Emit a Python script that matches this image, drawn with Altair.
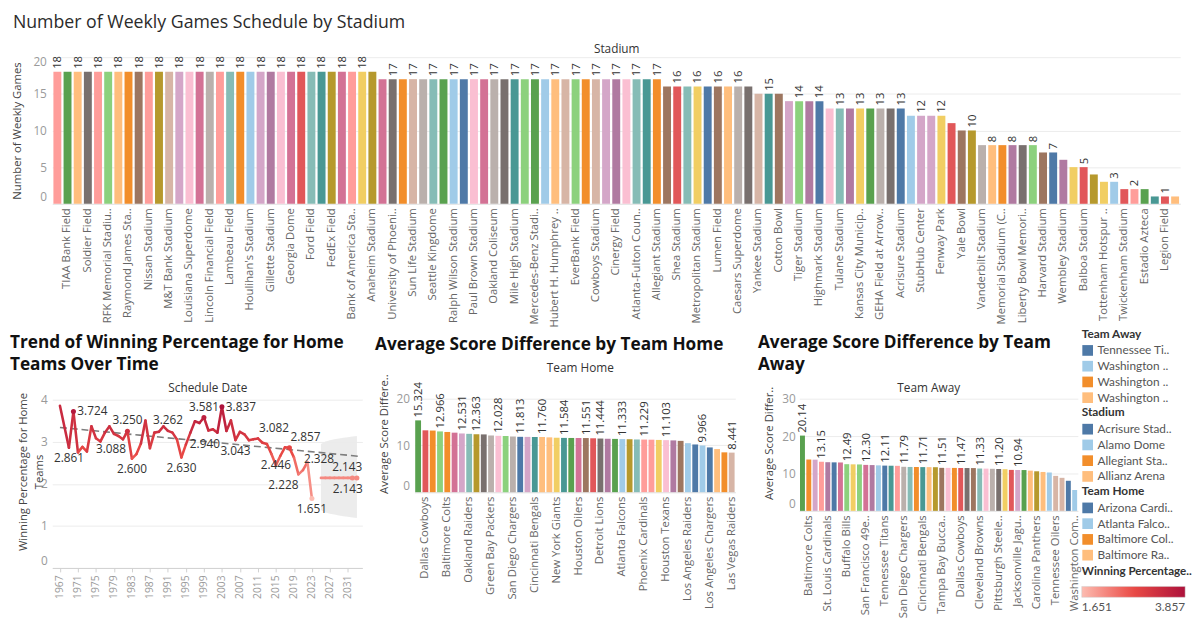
import json
import altair as alt
import pandas as pd

FONT = "Open Sans"
LFONT = "Lato"
T20 = ["#4E79A7", "#A0CBE8", "#F28E2B", "#FFBE7D", "#59A14F", "#8CD17D", "#B6992D", "#F1CE63",
       "#499894", "#86BCB6", "#E15759", "#FF9D9A", "#79706E", "#BAB0AC", "#D37295", "#FABFD2",
       "#B07AA1", "#D4A6C8", "#9D7660", "#D7B5A6"]
RED = ["#fdbcb1", "#ea4a45", "#ad123b"]

# ---------------- Stadium chart data ----------------
stadium_games = [
    18, 18, 18, 18, 18, 18, 18, 18, 18, 18,
    18, 18, 18, 18, 18, 18, 18, 18, 18, 18,
    18, 18, 18, 18, 18, 18, 18, 18, 18, 18,
    18, 18, 17, 17, 17, 17, 17, 17, 17, 17,
    17, 17, 17, 17, 17, 17, 17, 17, 17, 17,
    17, 17, 17, 17, 17, 17, 17, 17, 17, 17,
    16, 16, 16, 16, 16, 16, 16, 16, 16, 15,
    15, 15, 14, 14, 14, 14, 13, 13, 13, 13,
    13, 13, 13, 13, 12, 12, 12, 12, 11, 10,
    10, 8, 8, 8, 8, 8, 8, 7, 7, 6,
    5, 5, 4, 3, 3, 2, 2, 2, 1, 1,
    1]
stadium_color_codes = [
    11, 4, 3, 12, 11, 5, 3, 2, 18, 11,
    6, 19, 17, 15, 14, 13, 11, 9, 2, 1,
    17, 16, 15, 14, 10, 9, 8, 6, 14, 11,
    7, 6, 14, 12, 2, 19, 13, 9, 4, 1,
    0, 15, 14, 13, 12, 8, 5, 4, 1, 3,
    19, 5, 2, 19, 17, 16, 15, 9, 8, 2,
    18, 10, 9, 7, 0, 18, 3, 13, 12, 19,
    8, 18, 17, 5, 16, 0, 15, 9, 16, 7,
    4, 13, 12, 0, 1, 17, 17, 7, 10, 18,
    6, 13, 3, 2, 16, 12, 5, 18, 0, 16,
    7, 10, 6, 7, 1, 10, 11, 4, 8, 10,
    3]
# names visible on the axis (every second bar, starting with the second)
stadium_visible_names = [
    "TIAA Bank Field", "Soldier Field", "RFK Memorial Stadiu..", "Raymond James Sta..",
    "Nissan Stadium", "M&T Bank Stadium", "Louisiana Superdome", "Lincoln Financial Field",
    "Lambeau Field", "Houlihan's Stadium", "Gillette Stadium", "Georgia Dome", "Ford Field",
    "FedEx Field", "Bank of America Sta..", "Anaheim Stadium", "University of Phoeni..",
    "Sun Life Stadium", "Seattle Kingdome", "Ralph Wilson Stadium", "Paul Brown Stadium",
    "Oakland Coliseum", "Mile High Stadium", "Mercedes-Benz Stadi..", "Hubert H. Humphrey ..",
    "EverBank Field", "Cowboys Stadium", "Cinergy Field", "Atlanta-Fulton Coun..",
    "Allegiant Stadium", "Shea Stadium", "Metropolitan Stadium", "Lumen Field",
    "Caesars Superdome", "Yankee Stadium", "Cotton Bowl", "Tiger Stadium", "Highmark Stadium",
    "Tulane Stadium", "Kansas City Municip..", "GEHA Field at Arrow..", "Acrisure Stadium",
    "StubHub Center", "Fenway Park", "Yale Bowl", "Vanderbilt Stadium", "Memorial Stadium (C..",
    "Liberty Bowl Memori..", "Harvard Stadium", "Wembley Stadium", "Balboa Stadium",
    "Tottenham Hotspur ..", "Twickenham Stadium", "Estadio Azteca", "Legion Field"]
stadium_label_idx = [0, 2, 4, 6, 8, 10, 12, 14, 16, 18, 20, 22, 24, 26, 28, 30,
                     33, 35, 37, 39, 41, 43, 45, 47, 49, 51, 53, 55, 57, 59,
                     61, 63, 65, 67, 70, 73, 75, 77, 79, 81, 83, 85, 87, 90,
                     92, 94, 96, 98, 101, 104, 106, 109]

# ---------------- Team Home data ----------------
home_avg = [15.324, 13.20, 13.15, 12.966, 12.85, 12.70, 12.531, 12.45, 12.363, 12.33,
            12.10, 12.028, 12.00, 11.90, 11.813, 11.80, 11.78, 11.760, 11.70, 11.62,
            11.584, 11.57, 11.56, 11.551, 11.50, 11.444, 11.40, 11.37, 11.333, 11.30,
            11.25, 11.229, 11.20, 11.15, 11.103, 11.05, 10.95, 10.46, 10.18, 9.966,
            9.55, 9.20, 8.50, 8.441]
home_color_codes = [4, 10, 2, 5, 2, 14, 17, 9, 6, 12, 13, 15, 5, 13, 0, 17, 8, 3, 3, 7,
                    8, 4, 14, 18, 10, 12, 16, 4, 1, 6, 9, 11, 11, 7, 15, 16, 18, 1, 0, 1,
                    0, 3, 2, 19]
home_visible_names = ["Dallas Cowboys", "Baltimore Colts", "Oakland Raiders", "Green Bay Packers",
                      "San Diego Chargers", "Cincinnati Bengals", "New York Giants", "Houston Oilers",
                      "Detroit Lions", "Atlanta Falcons", "Phoenix Cardinals", "Houston Texans",
                      "Los Angeles Raiders", "Los Angeles Chargers", "Las Vegas Raiders"]
home_label_idx = [0, 3, 6, 8, 11, 14, 17, 20, 23, 25, 28, 31, 34, 39, 43]

# ---------------- Team Away data ----------------
away_avg = [20.14, 13.74, 13.70, 13.15, 13.02, 12.98, 12.95, 12.49, 12.45, 12.42,
            12.30, 12.25, 12.18, 12.11, 12.08, 12.05, 11.79, 11.75, 11.73, 11.71,
            11.70, 11.68, 11.51, 11.50, 11.49, 11.47, 11.46, 11.45, 11.33, 11.30,
            11.25, 11.20, 11.15, 10.96, 10.94, 10.92, 10.76, 10.59, 10.41, 10.24,
            9.36, 8.84, 8.05, 5.59]
away_color_codes = [4, 2, 17, 11, 16, 0, 14, 5, 7, 5, 14, 16, 1, 0, 8, 11, 13, 9, 2, 8,
                    3, 6, 18, 15, 2, 10, 12, 18, 9, 15, 13, 12, 7, 10, 17, 4, 3, 6, 3, 1,
                    19, 19, 0, 1]
away_visible_names = ["Baltimore Colts", "St. Louis Cardinals", "Buffalo Bills", "San Francisco 49e..",
                      "Tennessee Titans", "San Diego Chargers", "Cincinnati Bengals", "Tampa Bay Bucca..",
                      "Dallas Cowboys", "Cleveland Browns", "Pittsburgh Steele..", "Jacksonville Jagu..",
                      "Carolina Panthers", "Tennessee Oilers", "Washington Com.."]
away_label_idx = [0, 3, 7, 10, 13, 16, 19, 22, 25, 28, 31, 34]

# ---------------- Winning percentage trend ----------------
years = [1967, 1969, 1970, 1971, 1972, 1973, 1974, 1975, 1976, 1977, 1978, 1979, 1980,
         1981, 1982, 1983, 1984, 1985, 1986, 1987, 1988, 1989, 1990, 1991, 1992, 1993,
         1994, 1995, 1996, 1997, 1998, 1999, 2000, 2001, 2002, 2003, 2004, 2005, 2006,
         2007, 2008, 2009, 2010, 2011, 2012, 2013, 2014, 2015, 2016, 2017, 2018, 2019,
         2020, 2021, 2022, 2023]
win_pct = [3.857, 2.861, 3.724, 2.75, 2.88, 2.77, 3.37, 3.088, 3.01, 3.22, 3.37, 3.19, 3.14,
           3.06, 3.250, 2.600, 2.71, 2.96, 3.51, 2.85, 3.22, 3.24, 3.37, 3.262, 3.22, 3.06,
           2.630, 2.940, 3.22, 3.49, 3.45, 3.581, 3.27, 3.30, 3.22, 3.837, 3.26, 3.51, 3.043,
           3.24, 3.18, 3.04, 3.06, 3.082, 2.98, 2.95, 2.71, 2.446, 2.67, 2.87, 2.857, 2.63,
           2.228, 2.328, 2.52, 1.651]
fc_years = [2025, 2026, 2027, 2028, 2029, 2030, 2031, 2032, 2033]
fc_value = [2.143, 2.143, 2.143, 2.143, 2.143, 2.143, 2.143, 2.143, 2.143]
fc_upper = [2.95, 3.01, 3.04, 3.06, 3.08, 3.10, 3.11, 3.13, 3.14]
fc_lower = [1.38, 1.32, 1.29, 1.27, 1.25, 1.23, 1.22, 1.20, 1.19]
year_ticks = [1967, 1971, 1975, 1979, 1983, 1987, 1991, 1995, 1999, 2003, 2007, 2011,
              2015, 2019, 2023, 2027, 2031]
marker_years = [1970, 1982, 1999, 2003, 2018, 2023]
lab_right = [1970, 1995, 2003]
lab_above = [1982, 1991, 1999]
lab_below = [1969, 1983, 1994, 2006, 2023]
lab_right_above = [2011, 2018, 2021]
lab_right_below = [1975]
lab_on = [2015]
lab_below_left = [2020]

# ---------------- Legend panel ----------------
leg_away_names = ["Tennessee Titans", "Washington Commanders", "Washington Football Team", "Washington Redskins"]
leg_away_shown = ["Tennessee Ti..", "Washington ..", "Washington ..", "Washington .."]
leg_away_codes = [0, 1, 2, 3]
leg_stadium_names = ["Acrisure Stadium", "Alamo Dome", "Allegiant Stadium", "Allianz Arena"]
leg_stadium_shown = ["Acrisure Stad..", "Alamo Dome", "Allegiant Sta..", "Allianz Arena"]
leg_stadium_codes = [0, 1, 2, 3]
leg_home_names = ["Arizona Cardinals", "Atlanta Falcons", "Baltimore Colts", "Baltimore Ravens"]
leg_home_shown = ["Arizona Cardi..", "Atlanta Falco..", "Baltimore Col..", "Baltimore Ra.."]
leg_home_codes = [0, 1, 2, 3]
wp_range = [1.651, 3.857]

# ====================================================================
color_cat = alt.Scale(domain=list(range(20)), range=T20)
red_scale = alt.Scale(domain=[1.651, 2.754, 3.857], range=RED, interpolate="rgb")


def y_axis(title, values, title_pad, label_pad, extent, lines=16):
    return alt.Axis(title=title, values=values, grid=True, gridColor="#ececec", ticks=False,
                    domain=False, labelFlush=True, labelFontSize=12, labelColor="#9a9a9a",
                    titleFontSize=11.5, titleColor="#444", titlePadding=title_pad,
                    labelPadding=label_pad, titleFontWeight="normal", titleLineHeight=lines,
                    minExtent=extent, maxExtent=extent)


def header_axis(title, pad=None, ty=None, tx=None):
    kw = dict(orient="top", title=title, labels=False, ticks=False, domain=False, grid=False,
              titleFontSize=12, titleColor="#333", titleFontWeight="normal", minExtent=0,
              maxExtent=0)
    if pad is not None:
        kw["titlePadding"] = pad
    if ty is not None:
        kw["titleY"] = ty
        kw["titleBaseline"] = "middle"
    if tx is not None:
        kw["titleX"] = tx
        kw["titleAlign"] = "center"
    return alt.Axis(**kw)


def chart_title(text, dx, bold=True, size=17.5, offset=8):
    return alt.TitleParams(text, fontSize=size, fontWeight="bold" if bold else "normal",
                           lineHeight=22, anchor="start", frame="group", dx=dx, offset=offset,
                           color="#111" if bold else "#2b2b2b")


def bar_panel(values, codes, visible, every, first, label_idx, fmt, ymax, yvals, ytitle,
              header_ax, width, height, pad_inner, title, tpad, lpad, extent):
    n = len(values)
    labels = [""] * n
    for k, name in enumerate(visible):
        labels[first + k * every] = name
    df = pd.DataFrame({"idx": list(range(n)), "v": values, "c": codes})
    df["show"] = df["idx"].isin(label_idx)
    xs = alt.Scale(domain=list(range(n)), paddingInner=pad_inner, paddingOuter=pad_inner / 2)
    ys = alt.Scale(domain=[0, ymax], nice=False)
    bars = alt.Chart(df).mark_bar().encode(
        x=alt.X("idx:O", scale=xs, axis=alt.Axis(
            title=None, labelExpr=json.dumps(labels) + "[datum.value]", labelAngle=270,
            labelFontSize=11.5, labelColor="#666", labelPadding=4, ticks=False,
            domain=True, domainColor="#e4e4e4", labelOverlap=False, labelLimit=300,
            labelBound=False)),
        y=alt.Y("v:Q", scale=ys, axis=y_axis(ytitle, yvals, tpad, lpad, extent)),
        color=alt.Color("c:N", scale=color_cat, legend=None),
    )
    text = alt.Chart(df).transform_filter("datum.show").mark_text(
        angle=270, align="left", baseline="middle", dx=3, dy=1, fontSize=11.5, color="#333",
        font=FONT).encode(
        x=alt.X("idx:O", scale=xs, axis=header_ax),
        y=alt.Y("v:Q", scale=ys, axis=None),
        text=alt.Text("v:Q", format=fmt),
    )
    return alt.layer(bars, text).resolve_axis(x="independent", y="independent").properties(
        width=width, height=height, title=title)


# ---------------- top chart ----------------
top = bar_panel(stadium_games, stadium_color_codes, stadium_visible_names, 2, 1,
                stadium_label_idx, "d", 20, [0, 5, 10, 15, 20], "Number of Weekly Games",
                header_axis("Stadium", pad=2), 1146, 149, 0.22,
                chart_title("Number of Weekly Games Schedule by Stadium", -40, bold=False,
                            size=18, offset=11),
                9.5, 6, 21)

# ---------------- line chart ----------------
hist = pd.DataFrame({"year": years, "wp": win_pct})
fc = pd.DataFrame({"year": fc_years, "wp": fc_value, "lo": fc_lower, "hi": fc_upper})
xsc = alt.Scale(domain=[1965.3, 2034.2], nice=False, zero=False)
ysc = alt.Scale(domain=[0, 4.59], nice=False)
xn = alt.X("year:Q", scale=xsc, axis=None)
yn = alt.Y("wp:Q", scale=ysc, axis=None)

band = alt.Chart(fc).mark_area(color="#ebebeb", opacity=0.95).encode(
    x=alt.X("year:Q", scale=xsc, axis=header_axis("Schedule Date", ty=13)),
    y=alt.Y("lo:Q", scale=ysc, axis=None), y2="hi:Q")

trend = alt.Chart(hist).transform_regression("year", "wp", extent=[1967, 2033.5]).mark_line(
    color="#7d7d7d", strokeDash=[7, 4], strokeWidth=1.6).encode(x=xn, y=yn)


def segments(df, axis_x, axis_y):
    return alt.Chart(df).transform_window(
        year2="lead(year)", wp2="lead(wp)", sort=[alt.SortField("year")], frame=[None, None]
    ).transform_filter("datum.year2 != null").transform_calculate(
        mid="(datum.wp + datum.wp2) / 2").mark_rule(strokeWidth=2.6, strokeCap="round").encode(
        x=alt.X("year:Q", scale=xsc, axis=axis_x), x2="year2:Q",
        y=alt.Y("wp:Q", scale=ysc, axis=axis_y), y2="wp2:Q",
        color=alt.Color("mid:Q", scale=red_scale, legend=None))


seg_hist = segments(hist, alt.Axis(values=year_ticks, format="d", labelAngle=270, title=None,
                                   grid=False, ticks=True, tickSize=4, tickColor="#d0d0d0",
                                   domainColor="#d0d0d0", labelColor="#9a9a9a", labelFontSize=10.5,
                                   labelPadding=3, labelOverlap=False),
                    y_axis(["Winning Percentage for Home", "Teams"], [0, 1, 2, 3, 4], 0, 5, 8))
seg_fc = segments(fc, None, None)

dots = alt.Chart(hist).transform_filter(alt.FieldOneOfPredicate(field="year", oneOf=marker_years)
                                        ).mark_circle(size=26, opacity=1).encode(
    x=xn, y=yn, color=alt.Color("wp:Q", scale=red_scale, legend=None))
fc_dots = alt.Chart(fc).transform_filter(alt.FieldOneOfPredicate(field="year", oneOf=[2032, 2033])
                                         ).mark_circle(size=26, opacity=1).encode(
    x=xn, y=yn, color=alt.Color("wp:Q", scale=red_scale, legend=None))


def labels(df, yrs, align, dx, dy):
    return alt.Chart(df).transform_filter(alt.FieldOneOfPredicate(field="year", oneOf=yrs)).mark_text(
        align=align, baseline="middle", dx=dx, dy=dy, fontSize=12, color="#333", font=FONT
    ).encode(x=xn, y=yn, text=alt.Text("wp:Q", format=".3f"))


line_layers = [band, trend, seg_hist, seg_fc, dots, fc_dots,
               labels(hist, lab_right, "left", 4, 0),
               labels(hist, lab_above, "center", 0, -11),
               labels(hist, lab_below, "center", 0, 11),
               labels(hist, lab_right_above, "left", 1, -11),
               labels(hist, lab_right_below, "left", 0, 11),
               labels(hist, lab_on, "center", 0, 0),
               labels(hist, lab_below_left, "right", 0, 11),
               labels(fc, [2032], "right", 10, -11),
               labels(fc, [2033], "right", 6, 11)]
line_chart = alt.layer(*line_layers).resolve_axis(x="independent", y="independent").properties(
    width=315, height=196,
    title=chart_title(["Trend of Winning Percentage for Home", "Teams Over Time"], -43, offset=2))

# ---------------- team charts ----------------
mid_chart = bar_panel(home_avg, home_color_codes, home_visible_names, 3, 1, home_label_idx, ".3f",
                      25, [0, 10, 20], "Average Score Differe..",
                      header_axis("Team Home", pad=1, tx=168), 326, 119, 0.2,
                      chart_title("Average Score Difference by Team Home", -40, offset=8),
                      6, 5, 19)
right_chart = bar_panel(away_avg, away_color_codes, away_visible_names, 3, 1, away_label_idx, ".2f",
                        36.34, [0, 10, 20, 30], "Average Score Differ..",
                        header_axis("Team Away", ty=13, tx=131), 283, 138, 0.22,
                        chart_title(["Average Score Difference by Team", "Away"], -42, offset=2),
                        7.5, 4, 18)


# ---------------- legend panel ----------------
def sym_legend(title, names, shown, codes, y):
    df = pd.DataFrame({"name": names})
    expr = json.dumps(shown) + "[indexof(" + json.dumps(names) + ", datum.label)]"
    return alt.Chart(df).mark_square(size=0, opacity=0).encode(
        color=alt.Color("name:N", scale=alt.Scale(domain=names, range=[T20[c] for c in codes]),
                        legend=alt.Legend(title=title, orient="none", legendX=0, legendY=y,
                                          labelExpr=expr, symbolType="square", symbolSize=118,
                                          symbolStrokeWidth=0, symbolOpacity=1, labelFontSize=12,
                                          labelColor="#555", titleFontSize=12, titleColor="#333",
                                          titleFontWeight="bold", rowPadding=4, titlePadding=4,
                                          labelOffset=4, padding=0, labelLimit=200,
                                          labelFont=LFONT, titleFont=LFONT)))


wp_leg = alt.Chart(pd.DataFrame({"w": wp_range})).mark_square(size=0, opacity=0).encode(
    color=alt.Color("w:Q", scale=red_scale,
                    legend=alt.Legend(title="Winning Percentage..", orient="none", legendX=0,
                                      legendY=194, direction="horizontal", gradientLength=105,
                                      gradientThickness=11, values=wp_range, format=".3f",
                                      labelFontSize=12, labelColor="#555", titleFontSize=11.8,
                                      titleColor="#333", titleFontWeight="bold", titlePadding=9,
                                      labelOffset=5,
                                      gradientStrokeColor="#cccccc", gradientStrokeWidth=0.5,
                                      padding=0, titleLimit=200, labelFont=LFONT, titleFont=LFONT)))

legend_panel = alt.layer(
    sym_legend("Team Away", leg_away_names, leg_away_shown, leg_away_codes, -47),
    sym_legend("Stadium", leg_stadium_names, leg_stadium_shown, leg_stadium_codes, 33),
    sym_legend("Team Home", leg_home_names, leg_home_shown, leg_home_codes, 113),
    wp_leg,
).resolve_scale(color="independent").properties(width=90, height=1)

bottom = alt.hconcat(
    line_chart,
    alt.hconcat(mid_chart, alt.hconcat(right_chart, legend_panel, spacing=2), spacing=20),
    spacing=12)

chart = alt.vconcat(top, bottom, spacing=1).properties(
    padding={"left": 2, "top": 1, "right": 0, "bottom": 0}
).configure_view(stroke=None).configure_axis(
    labelFont=FONT, titleFont=FONT
).configure_title(font=FONT).configure_legend(labelFont=LFONT, titleFont=LFONT).configure_text(font=FONT)

chart.save("out.html", embed_options={"renderer": "svg", "actions": False})
